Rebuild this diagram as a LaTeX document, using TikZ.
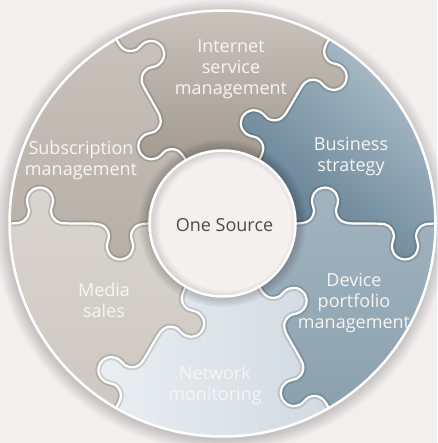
\documentclass[tikz,border=0pt]{standalone}
\usepackage{fontspec}
\setmainfont{Open Sans}
\usetikzlibrary{calc}

\definecolor{bg}{HTML}{F2EFEE}
\definecolor{diskfill}{HTML}{F3F0EF}
\definecolor{sourcetext}{HTML}{4D4B4A}
\definecolor{labeltext}{HTML}{F6F5F3}
\definecolor{inetTop}{HTML}{CCC6BF}
\definecolor{inetBot}{HTML}{9D948A}
\definecolor{bizLight}{HTML}{B5C5CF}
\definecolor{bizDark}{HTML}{557489}
\definecolor{devTop}{HTML}{A3B5C1}
\definecolor{devBot}{HTML}{889DAB}
\definecolor{netLight}{HTML}{ECF0F3}
\definecolor{netDark}{HTML}{CFD9E1}
\definecolor{medTop}{HTML}{DAD6D0}
\definecolor{medBot}{HTML}{CCC6BE}
\definecolor{subTop}{HTML}{CBC5BE}
\definecolor{subBot}{HTML}{B6AFA6}

% one seam of the ring, drawn along the +x axis from the hub outwards:
% a tab bulging to the counter-clockwise side near the hub,
% and one bulging to the clockwise side near the rim
\def\seam{-- plot[smooth, tension=0.5] coordinates {(66,0) (79,-0.3) (86,-2.5) (90,-7) (91.5,-13) (90,-19) (89.5,-24) (91.5,-30) (96,-34.3) (102.5,-36) (109,-34.3) (113.5,-30) (115.5,-24) (115,-19) (113.5,-13) (115,-7) (119,-2.5) (126,-0.3) (135,0) (159,0.3) (166,2.5) (170,7) (171.5,13) (170,19) (169.5,24) (171.5,30) (176,34.3) (182.5,36) (189,34.3) (193.5,30) (195.5,24) (195,19) (193.5,13) (195,7) (199,2.5) (206,0.3) (225,0)}}
% the areas on the clockwise / counter-clockwise side of a seam
\def\cwside{(0,0) -- (66,0) \seam -- (300,0) -- (300,300) -- (0,300) -- cycle}
\def\ccwside{(0,0) -- (66,0) \seam -- (300,0) -- (300,-300) -- (0,-300) -- cycle}

% a ring piece between the seam at angle #1 and the one 60 degrees further on
\newcommand\puzzlepiece[4]{%
  \begin{scope}
    \clip (O) circle (213);
    \clip[shift={(O)}, rotate=-#1] \cwside;
    \pgfmathsetmacro\nextseam{#1+60}
    \clip[shift={(O)}, rotate=-\nextseam] \ccwside;
    \shade[#2] #3 rectangle #4;
  \end{scope}}

\tikzset{
  seamshade/.style={black, opacity=0.13, line width=6pt, line join=round},
  seamline/.style={white, line width=2.2pt, line join=round},
  piecelabel/.style={text=labeltext, align=center, inner sep=0pt,
    font=\fontsize{18}{21}\selectfont},
}

\begin{document}
\begin{tikzpicture}[x=1pt, y=-1pt]
  \fill[bg] (0,0) rectangle (437,443);
  \useasboundingbox (0,0) rectangle (437,443);
  \coordinate (O) at (222.5,223.5);

  % soft shadow around the ring
  \foreach \w in {3,6,...,27}
    \draw[black, opacity=0.018, line width=\w pt] ($(O)+(-1,2)$) circle (213);

  % the six pieces
  \puzzlepiece{240}{top color=inetTop, bottom color=inetBot}{(95,0)}{(365,185)}
  \puzzlepiece{300}{top color=bizLight, bottom color=bizDark, shading angle=-40}{(230,5)}{(437,280)}
  \puzzlepiece{0}{top color=devTop, bottom color=devBot}{(250,180)}{(437,443)}
  \puzzlepiece{60}{left color=netLight, right color=netDark}{(80,275)}{(345,443)}
  \puzzlepiece{120}{top color=medTop, bottom color=medBot}{(0,170)}{(220,443)}
  \puzzlepiece{180}{top color=subTop, bottom color=subBot}{(0,0)}{(205,270)}

  % seams between the pieces
  \begin{scope}
    \clip (O) circle (213);
    \foreach \a in {0,60,...,300}
      \draw[seamshade, shift={(O)}, rotate=-\a] (60,0) \seam;
    \foreach \a in {0,60,...,300}
      \draw[seamline, shift={(O)}, rotate=-\a] (60,0) \seam;
  \end{scope}

  % shadow cast by the hub
  \foreach \w in {2,4,...,22}
    \draw[black, opacity=0.018, line width=\w pt] (O) circle (73);

  % hub
  \fill[diskfill] (O) circle (73);
  \begin{scope}
    \clip (O) circle (73);
    \foreach \w in {2,4,...,14}
      \draw[black, opacity=0.014, line width=\w pt] ($(O)+(3,1)$) circle (73);
  \end{scope}
  \draw[white, line width=2.5pt] (O) circle (73);

  % rim
  \draw[white, line width=2.5pt] (O) circle (213);

  % labels
  \node[font=\fontsize{18}{21}\selectfont, text=sourcetext] (source) at (224.5,225) {One Source};
  \node[piecelabel] (internet) at (231,69) {Internet\\service\\management};
  \node[piecelabel] (business) at (351,157) {Business\\strategy};
  \node[piecelabel] (device) at (354,303) {Device\\portfolio\\management};
  \node[piecelabel] (network) at (215,385) {Network\\monitoring};
  \node[piecelabel] (media) at (104,300) {Media\\sales};
  \node[piecelabel] (subscription) at (81,160) {Subscription\\management};
\end{tikzpicture}
\end{document}
